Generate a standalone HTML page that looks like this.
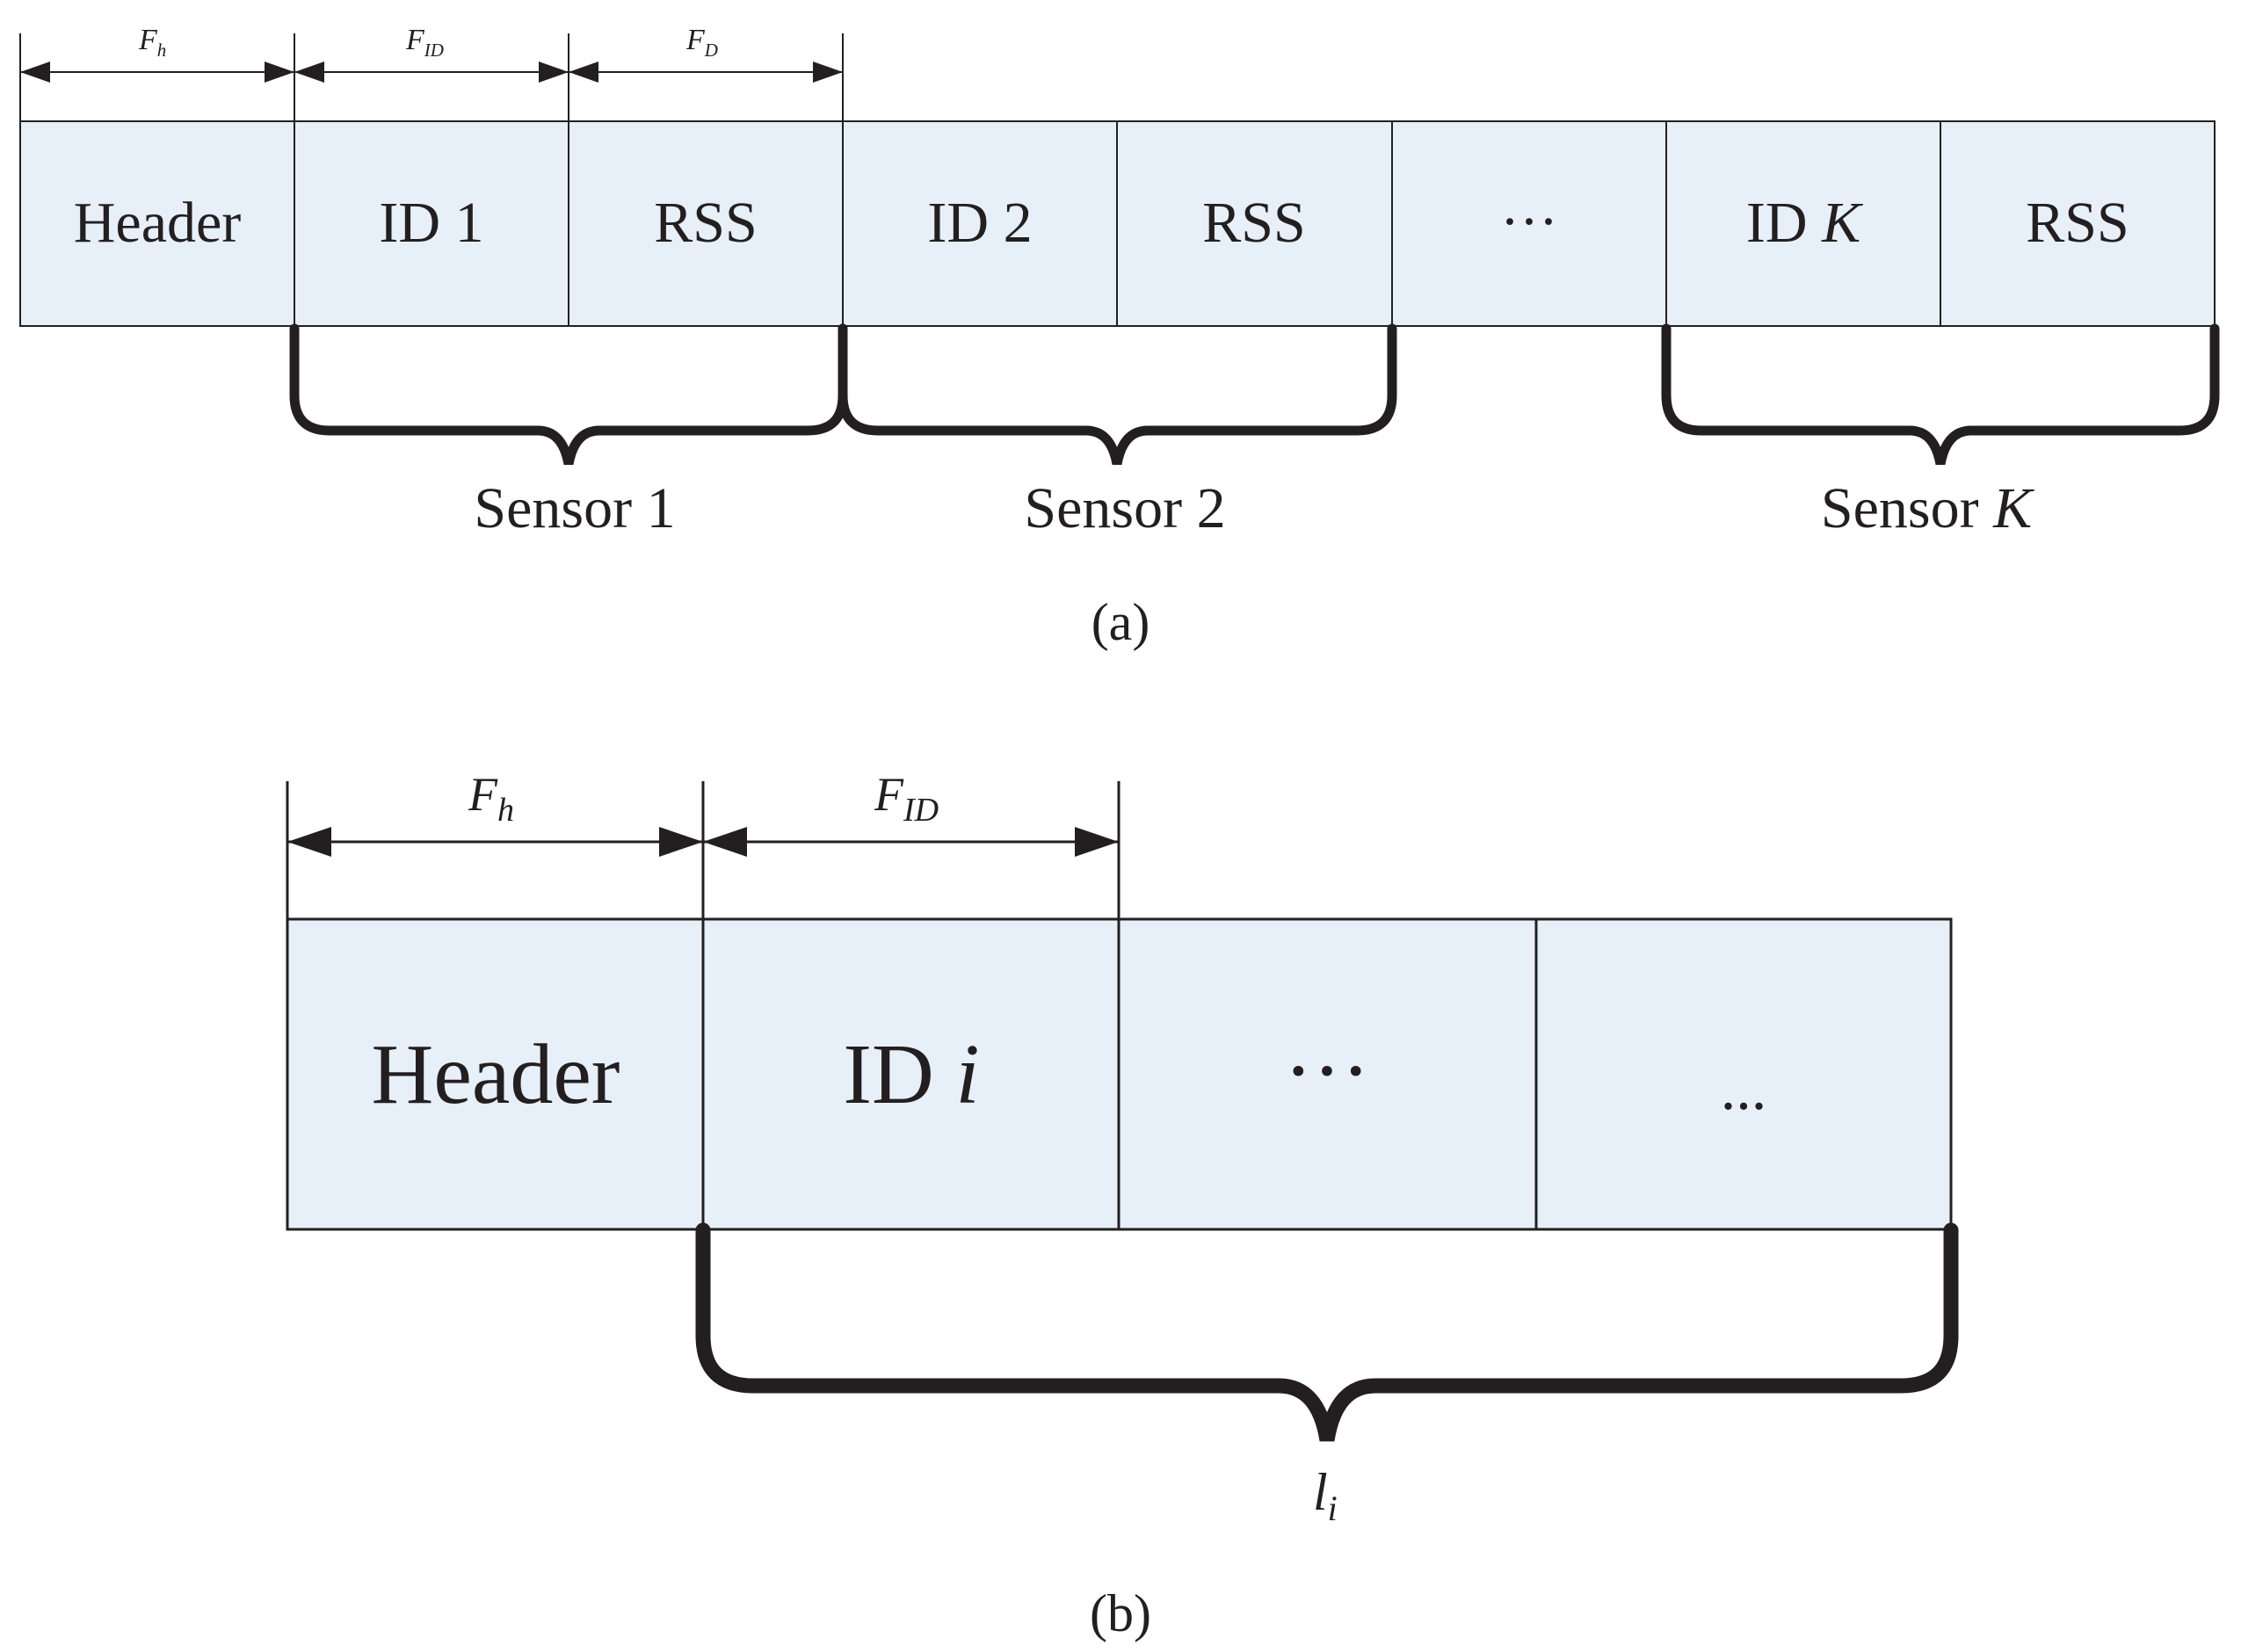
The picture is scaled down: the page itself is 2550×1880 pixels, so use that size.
<!DOCTYPE html>
<html><head><meta charset="utf-8"><style>html,body{margin:0;padding:0;background:#fff}svg{display:block}</style></head>
<body>
<svg width="2550" height="1880" viewBox="0 0 2550 1880" xmlns="http://www.w3.org/2000/svg" font-family="'Liberation Serif', serif" fill="#231f20">
<g stroke="#231f20" stroke-width="2">
<rect x="23" y="138" width="2497" height="233" fill="#e7eff9"/>
<line x1="335" y1="138" x2="335" y2="371"/><line x1="647" y1="138" x2="647" y2="371"/>
<line x1="959" y1="138" x2="959" y2="371"/><line x1="1271" y1="138" x2="1271" y2="371"/>
<line x1="1584" y1="138" x2="1584" y2="371"/><line x1="1896" y1="138" x2="1896" y2="371"/>
<line x1="2208" y1="138" x2="2208" y2="371"/>
<line x1="23" y1="38" x2="23" y2="138"/><line x1="335" y1="38" x2="335" y2="138"/>
<line x1="647" y1="38" x2="647" y2="138"/><line x1="959" y1="38" x2="959" y2="138"/>
<line x1="23" y1="82" x2="959" y2="82"/>
</g>
<g stroke="none">
<path d="M23 82 L57 70 L57 94Z"/><path d="M335 82 L301 70 L301 94Z"/>
<path d="M335 82 L369 70 L369 94Z"/><path d="M647 82 L613 70 L613 94Z"/>
<path d="M647 82 L681 70 L681 94Z"/><path d="M959 82 L925 70 L925 94Z"/>
</g>
<g font-style="italic" font-size="34">
<text x="158" y="56">F<tspan font-size="21" dy="8">h</tspan></text>
<text x="462" y="56">F<tspan font-size="21" dy="8">ID</tspan></text>
<text x="781" y="56">F<tspan font-size="21" dy="8">D</tspan></text>
</g>
<g font-size="66" text-anchor="middle">
<text x="179" y="275">Header</text>
<text x="491" y="275">ID 1</text>
<text x="803" y="275">RSS</text>
<text x="1115" y="275">ID 2</text>
<text x="1427" y="275">RSS</text>
<text x="1740" y="274">···</text>
<text x="2052" y="275">ID <tspan font-style="italic">K</tspan></text>
<text x="2364" y="275">RSS</text>
<text x="654" y="600">Sensor 1</text>
<text x="1280" y="600">Sensor 2</text>
<text x="2192" y="600">Sensor <tspan font-style="italic">K</tspan></text>
<text x="1275" y="728" font-size="60">(a)</text>
</g>
<g fill="none" stroke="#231f20" stroke-width="11" stroke-linecap="round">
<path d="M335 374 V450 Q335 490 375 490 H612 Q640 490 647 528 Q654 490 682 490 H919 Q959 490 959 450 V374"/>
<path d="M959 374 V450 Q959 490 999 490 H1236 Q1264 490 1271 528 Q1278 490 1306 490 H1544 Q1584 490 1584 450 V374"/>
<path d="M1896 374 V450 Q1896 490 1936 490 H2173 Q2201 490 2208 528 Q2215 490 2243 490 H2480 Q2520 490 2520 450 V374"/>
</g>
<g stroke="#231f20" stroke-width="3">
<rect x="327" y="1046" width="1893" height="353" fill="#e7eff9"/>
<line x1="800" y1="1046" x2="800" y2="1399"/><line x1="1273" y1="1046" x2="1273" y2="1399"/>
<line x1="1748" y1="1046" x2="1748" y2="1399"/>
<line x1="327" y1="889" x2="327" y2="1046"/><line x1="800" y1="889" x2="800" y2="1046"/>
<line x1="1273" y1="889" x2="1273" y2="1046"/>
<line x1="327" y1="958" x2="1273" y2="958"/>
</g>
<g stroke="none">
<path d="M327 958 L377 941 L377 975Z"/><path d="M800 958 L750 941 L750 975Z"/>
<path d="M800 958 L850 941 L850 975Z"/><path d="M1273 958 L1223 941 L1223 975Z"/>
</g>
<g font-style="italic" font-size="54">
<text x="533" y="922">F<tspan font-size="38" dy="12">h</tspan></text>
<text x="995" y="922">F<tspan font-size="38" dy="12">ID</tspan></text>
</g>
<g font-size="98" text-anchor="middle">
<text x="564" y="1255">Header</text>
<text x="1037" y="1255">ID <tspan font-style="italic">i</tspan></text>
<text x="1510" y="1251">···</text>
<text x="1984" y="1262" font-size="70">...</text>
</g>
<path d="M800 1400 V1520 Q800 1577 857 1577 H1455 Q1500 1577 1510 1639 Q1520 1577 1565 1577 H2163 Q2220 1577 2220 1520 V1400" fill="none" stroke="#231f20" stroke-width="17" stroke-linecap="round"/>
<text x="1494" y="1718" font-size="60" font-style="italic">l<tspan font-size="40" dy="12">i</tspan></text>
<text x="1275" y="1856" font-size="60" text-anchor="middle">(b)</text>
</svg>
</body></html>
